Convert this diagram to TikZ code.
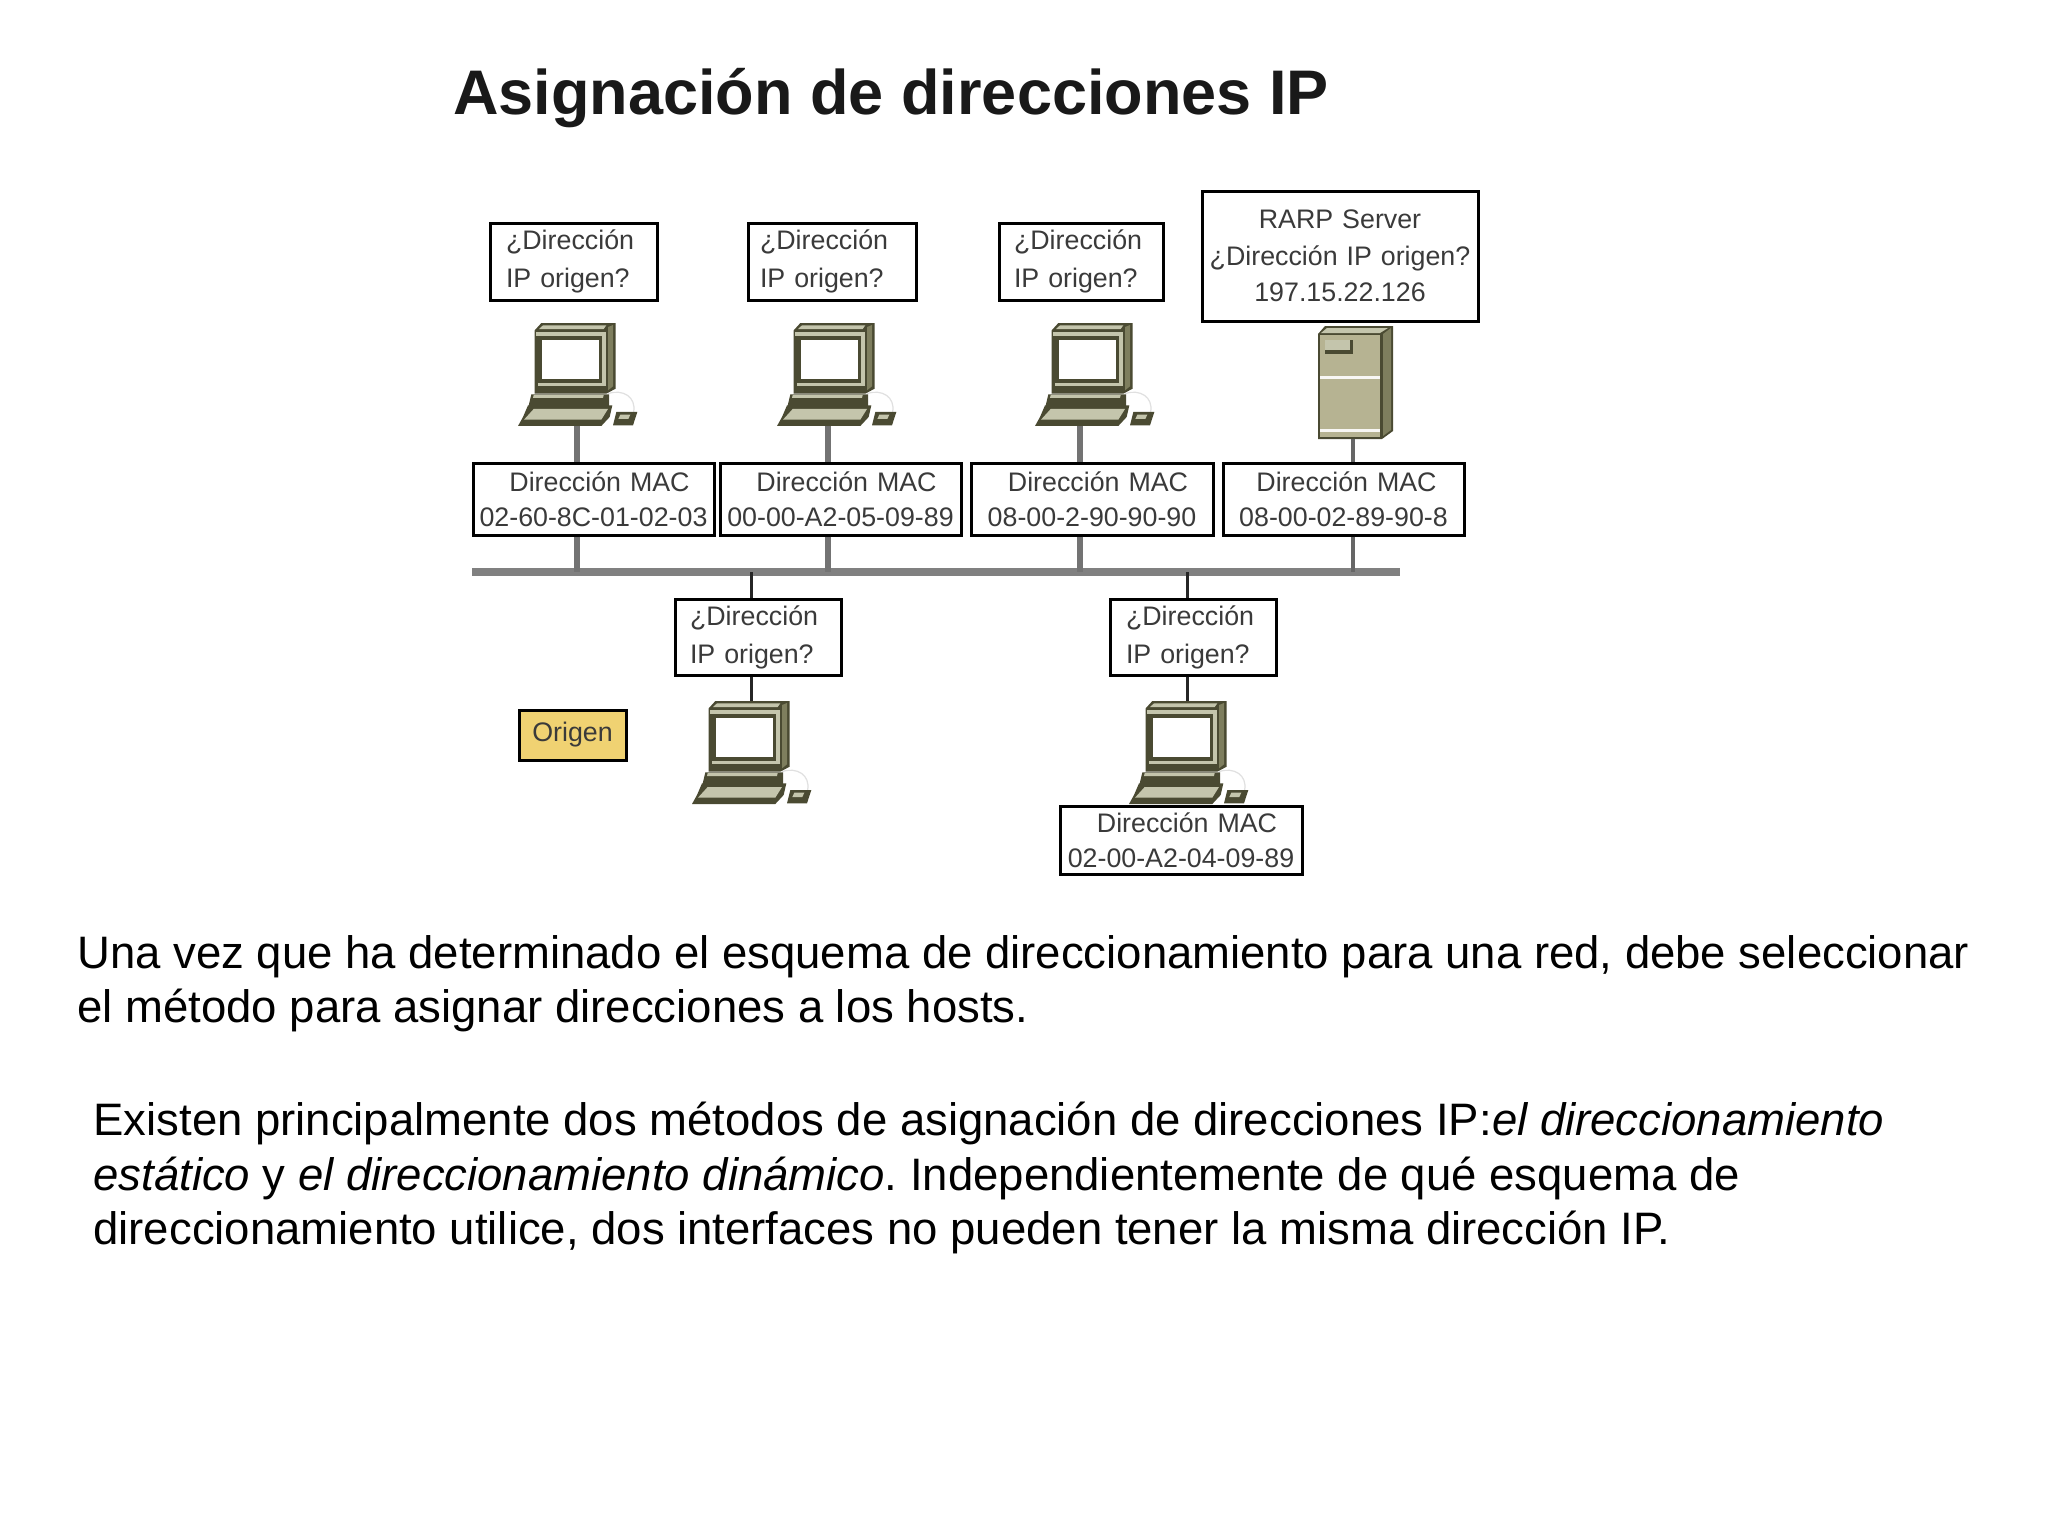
\documentclass[tikz,border=0pt]{standalone}
\usepackage{fontspec}
\setmainfont{Liberation Sans}
\frenchspacing
\definecolor{pcdark}{HTML}{4A4A32}
\definecolor{pcmid}{HTML}{7E7E5E}
\definecolor{pclight}{HTML}{C4C5AC}
\definecolor{srvfront}{HTML}{B6B392}
\definecolor{origenfill}{HTML}{F0D272}
\definecolor{lbltext}{HTML}{3A3A3A}
\tikzset{
  box/.style={draw=black,fill=white,line width=1.5pt,inner ysep=0pt,text=lbltext,
    font=\fontsize{13.4}{18.3}\selectfont},
  qbox/.style={align=left,font=\fontsize{13.4}{19}\selectfont},
  macbox/.style={align=center,font=\fontsize{13.4}{17.4}\selectfont},
  busbar/.style={fill=black!50,inner sep=0pt},
  dropline/.style={draw=black!55,line width=3.2pt},
  thinline/.style={draw=black!60,line width=2pt},
  darkline/.style={draw=black!85,line width=1.5pt},
  bodytext/.style={anchor=north west,align=left,inner sep=0pt,text=black,
    font=\fontsize{22.75}{27.2}\selectfont},
}
% name, x1, y1, x2, y2, horizontal padding (pt), extra style, text
\newcommand{\lbox}[8]{%
  \node[box,inner xsep=#6pt,minimum width={(#4-#2)*0.5pt},minimum height={(#5-#3)*0.5pt},
    text width={(#4-#2)*0.5pt-2*#6pt},#7] (#1) at ({(#2+#4)/2},{(#3+#5)/2}) {#8};}
\newcommand{\pcicon}[2]{%
  \begin{scope}[shift={(#1,#2)},scale=0.3333,shift={(-175,-428)}]
    \draw[black!12,line width=0.6pt] (445,640) .. controls (490,625) and (530,650) .. (522,695);
    \fill[pcdark] (245,428) -- (468,428) -- (468,625) -- (440,640) -- (225,640) -- (225,450) -- cycle;
    \fill[pcmid] (445,440) -- (460,434) -- (460,618) -- (445,630) -- cycle;
    \fill[pclight] (250,435) -- (440,435) -- (432,446) -- (238,446) -- cycle;
    \fill[pclight] (230,456) rectangle (438,468);
    \fill[pclight] (428,456) rectangle (438,618);
    \fill[pclight] (236,607) rectangle (438,618);
    \fill[white] (246,480) rectangle (418,597);
    \fill[pcdark] (215,642) -- (448,642) -- (448,684) -- (205,684) -- cycle;
    \fill[pclight] (222,644) -- (432,644) -- (430,653) -- (220,653) -- cycle;
    \fill[pcdark] (205,675) -- (458,675) -- (450,710) -- (425,737) -- (175,737) -- (190,710) -- cycle;
    \fill[pclight] (222,686) -- (445,686) -- (425,718) -- (193,718) -- cycle;
    \fill[pcdark] (470,695) -- (533,695) -- (520,735) -- (460,735) -- cycle;
    \fill[pclight] (482,703) -- (512,703) -- (506,716) -- (476,716) -- cycle;
  \end{scope}}
\begin{document}
\begin{tikzpicture}[x=0.5pt,y=-0.5pt]
\useasboundingbox (0,0) rectangle (2048,1536);
\fill[white] (0,0) rectangle (2048,1536);

\node[anchor=base west,inner sep=0pt,font=\fontsize{31.5}{36}\selectfont\bfseries,text=black!90] (title) at (453,114) {Asignación de direcciones IP};

% connector positions
\coordinate (c1) at (577,426);
\coordinate (c2) at (828,426);
\coordinate (c3) at (1080,426);
\coordinate (c4) at (1353,439);
\coordinate (d1) at (751,701);
\coordinate (d2) at (1187,701);

% computers and server
\pcicon{518}{323}
\pcicon{777}{323}
\pcicon{1035}{323}
\pcicon{692}{701}
\pcicon{1129}{701}
\begin{scope}[shift={(1318,326)}]
  \fill[pcdark] (7,0) -- (75,0) -- (75,105) -- (64,113) -- (0,113) -- (0,8) -- cycle;
  \fill[pcmid] (65,8) -- (73,2) -- (73,104) -- (65,110) -- cycle;
  \fill[pclight] (9,2) -- (70,2) -- (62,7) -- (3,7) -- cycle;
  \fill[srvfront] (2,9) rectangle (62,111);
  \fill[pcdark] (7,14) rectangle (35,28);
  \fill[pclight] (7,14) rectangle (32,24);
  \fill[white!90!srvfront] (2,50) rectangle (62,53);
  \fill[white!90!srvfront] (2,103) rectangle (62,106);
\end{scope}

% top question boxes
\lbox{q1}{490}{223}{657}{300}{8}{qbox}{¿Dirección\\IP origen?}
\lbox{q2}{748}{223}{916}{300}{6}{qbox}{¿Dirección\\IP origen?}
\lbox{q3}{999}{223}{1163}{300}{7.5}{qbox}{¿Dirección\\IP origen?}
\lbox{rarp}{1202}{191}{1478}{321}{1}{align=center}{RARP Server\\¿Dirección IP origen?\\197.15.22.126}

% MAC boxes
\lbox{m1}{473}{463}{714}{535}{1}{macbox}{\hspace*{6pt}Dirección MAC\\02-60-8C-01-02-03}
\lbox{m2}{720}{463}{961}{535}{1}{macbox}{\hspace*{6pt}Dirección MAC\\00-00-A2-05-09-89}
\lbox{m3}{971}{463}{1213}{535}{1}{macbox}{\hspace*{6pt}Dirección MAC\\08-00-2-90-90-90}
\lbox{m4}{1223}{463}{1464}{535}{1}{macbox}{\hspace*{3pt}Dirección MAC\\08-00-02-89-90-8}

% bus
\node[busbar,minimum width=464pt,minimum height=4pt] (bus) at (936,572) {};

% lower boxes
\lbox{q4}{675}{599}{841}{675}{7.5}{qbox}{¿Dirección\\IP origen?}
\lbox{q5}{1110}{599}{1276}{675}{8}{qbox}{¿Dirección\\IP origen?}
\lbox{origen}{519}{710}{626}{760}{1}{align=center,fill=origenfill}{\raisebox{-3.5pt}{Origen}}
\lbox{m5}{1060}{806}{1302}{874}{1}{macbox}{\hspace*{6pt}Dirección MAC\\02-00-A2-04-09-89}

% connectors
\draw[dropline] (c1) -- (c1 |- m1.north);
\draw[dropline] (c1 |- m1.south) -- (c1 |- bus.center);
\draw[dropline] (c2) -- (c2 |- m2.north);
\draw[dropline] (c2 |- m2.south) -- (c2 |- bus.center);
\draw[dropline] (c3) -- (c3 |- m3.north);
\draw[dropline] (c3 |- m3.south) -- (c3 |- bus.center);
\draw[thinline] (c4) -- (c4 |- m4.north);
\draw[thinline] (c4 |- m4.south) -- (c4 |- bus.center);
\draw[darkline] (d1 |- bus.center) -- (d1 |- q4.north);
\draw[darkline] (d1 |- q4.south) -- (d1);
\draw[darkline] (d2 |- bus.center) -- (d2 |- q5.north);
\draw[darkline] (d2 |- q5.south) -- (d2);

% body text
\node[bodytext] (p1) at (77,935) {Una vez que ha determinado el esquema de direccionamiento para una red, debe seleccionar\\el método para asignar direcciones a los hosts.};
\node[bodytext] (p2) at (93,1102) {Existen principalmente dos métodos de asignación de direcciones IP:\textit{el direccionamiento}\\\textit{estático} y \textit{el direccionamiento dinámico}. Independientemente de qué esquema de\\direccionamiento utilice, dos interfaces no pueden tener la misma dirección IP.};
\end{tikzpicture}
\end{document}
